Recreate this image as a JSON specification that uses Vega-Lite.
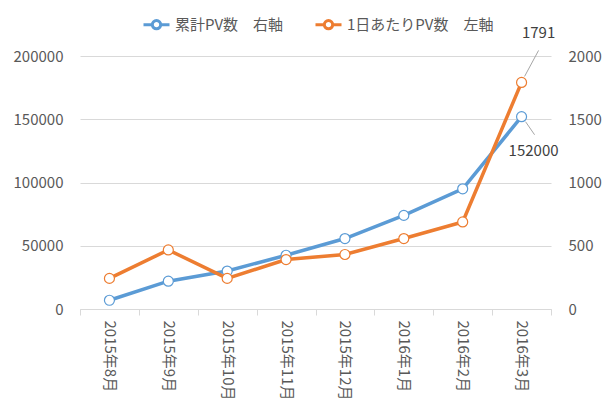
{
  "$schema": "https://vega.github.io/schema/vega-lite/v6.json",
  "autosize": {"type": "none"},
  "padding": {"left": 80, "top": 56, "right": 62, "bottom": 104},
  "width": 471,
  "height": 253,
  "background": "white",
  "config": {
    "font": "Noto Sans CJK JP",
    "view": {"stroke": null},
    "axis": {"labelFont": "Noto Sans CJK JP", "labelFontSize": 15, "labelColor": "#595959", "titleFontSize": 15}
  },
  "data": {
    "values": [
      {"month": "2015年8月", "series": "累計PV数　右軸", "value": 6900},
      {"month": "2015年9月", "series": "累計PV数　右軸", "value": 22000},
      {"month": "2015年10月", "series": "累計PV数　右軸", "value": 30000},
      {"month": "2015年11月", "series": "累計PV数　右軸", "value": 42500},
      {"month": "2015年12月", "series": "累計PV数　右軸", "value": 55700},
      {"month": "2016年1月", "series": "累計PV数　右軸", "value": 74000},
      {"month": "2016年2月", "series": "累計PV数　右軸", "value": 95000},
      {"month": "2016年3月", "series": "累計PV数　右軸", "value": 152000, "label": "152000"},
      {"month": "2015年8月", "series": "1日あたりPV数　左軸", "value": 242},
      {"month": "2015年9月", "series": "1日あたりPV数　左軸", "value": 467},
      {"month": "2015年10月", "series": "1日あたりPV数　左軸", "value": 242},
      {"month": "2015年11月", "series": "1日あたりPV数　左軸", "value": 391},
      {"month": "2015年12月", "series": "1日あたりPV数　左軸", "value": 431},
      {"month": "2016年1月", "series": "1日あたりPV数　左軸", "value": 557},
      {"month": "2016年2月", "series": "1日あたりPV数　左軸", "value": 688},
      {"month": "2016年3月", "series": "1日あたりPV数　左軸", "value": 1791, "label": "1791"}
    ]
  },
  "encoding": {
    "x": {
      "field": "month",
      "type": "nominal",
      "sort": null,
      "scale": {"paddingInner": 0, "paddingOuter": 0},
      "axis": {
        "title": null,
        "labelAngle": 90,
        "labelPadding": 5,
        "domainColor": "#d9d9d9",
        "tickColor": "#d9d9d9",
        "tickSize": 6,
        "tickBand": "extent",
        "grid": false
      }
    }
  },
  "layer": [
    {
      "transform": [{"filter": "datum.series === '累計PV数　右軸'"}],
      "encoding": {
        "y": {
          "field": "value",
          "type": "quantitative",
          "scale": {"domain": [0, 200000], "nice": false},
          "axis": {
            "orient": "left",
            "title": null,
            "values": [0, 50000, 100000, 150000, 200000],
            "format": "d",
            "domain": false,
            "ticks": false,
            "labelPadding": 17,
            "gridColor": "#d9d9d9",
            "gridWidth": 1
          }
        }
      },
      "layer": [
        {
          "mark": {"type": "line", "strokeWidth": 3.5, "strokeCap": "round"},
          "encoding": {
            "color": {
              "field": "series",
              "type": "nominal",
              "scale": {"domain": ["累計PV数　右軸", "1日あたりPV数　左軸"], "range": ["#5B9BD5", "#ED7D31"]},
              "legend": {
                "title": null,
                "orient": "none",
                "direction": "horizontal",
                "legendX": 62,
                "legendY": -46,
                "symbolType": "M-1,0L-0.32,0M0.32,0L1,0M-0.32,0A0.32,0.32 0 1,0 0.32,0A0.32,0.32 0 1,0 -0.32,0",
                "symbolSize": 676,
                "symbolStrokeWidth": 3,
                "symbolFillColor": "white",
                "labelFontSize": 15,
                "labelFont": "Noto Sans CJK JP",
                "labelColor": "#595959",
                "labelOffset": 4,
                "columnPadding": 25
              }
            }
          }
        },
        {
          "mark": {"type": "point", "filled": true, "fill": "white", "stroke": "#5B9BD5", "strokeWidth": 1.2, "size": 100, "opacity": 1}
        },
        {
          "transform": [{"filter": "datum.label"}],
          "mark": {"type": "rule", "color": "#a6a6a6", "strokeWidth": 1, "xOffset": 4, "yOffset": 5, "x2Offset": 13, "y2Offset": 18},
          "encoding": {
            "x2": {"field": "month"},
            "y2": {"field": "value"}
          }
        },
        {
          "transform": [{"filter": "datum.label"}],
          "mark": {"type": "text", "fontSize": 15, "color": "#404040", "dx": 12, "dy": 34, "baseline": "middle", "align": "center"},
          "encoding": {"text": {"field": "label"}}
        }
      ]
    },
    {
      "transform": [{"filter": "datum.series === '1日あたりPV数　左軸'"}],
      "encoding": {
        "y": {
          "field": "value",
          "type": "quantitative",
          "scale": {"domain": [0, 2000], "nice": false},
          "axis": {
            "orient": "right",
            "title": null,
            "values": [0, 500, 1000, 1500, 2000],
            "format": "d",
            "domain": false,
            "ticks": false,
            "grid": false,
            "labelPadding": 17
          }
        }
      },
      "layer": [
        {
          "mark": {"type": "line", "strokeWidth": 3.5, "strokeCap": "round"},
          "encoding": {
            "color": {"field": "series", "type": "nominal"}
          }
        },
        {
          "mark": {"type": "point", "filled": true, "fill": "white", "stroke": "#ED7D31", "strokeWidth": 1.2, "size": 100, "opacity": 1}
        },
        {
          "transform": [{"filter": "datum.label"}],
          "mark": {"type": "rule", "color": "#a6a6a6", "strokeWidth": 1, "xOffset": 3, "yOffset": -6, "x2Offset": 17, "y2Offset": -32},
          "encoding": {
            "x2": {"field": "month"},
            "y2": {"field": "value"}
          }
        },
        {
          "transform": [{"filter": "datum.label"}],
          "mark": {"type": "text", "fontSize": 15, "color": "#404040", "dx": 17, "dy": -49, "baseline": "middle", "align": "center"},
          "encoding": {"text": {"field": "label"}}
        }
      ]
    }
  ],
  "resolve": {"scale": {"y": "independent"}}
}
